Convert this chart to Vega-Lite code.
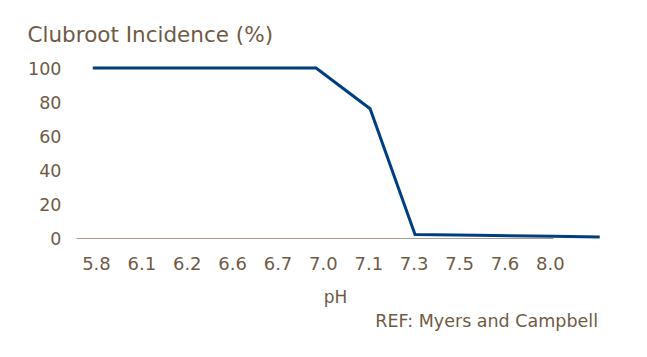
{
  "$schema": "https://vega.github.io/schema/vega-lite/v6.json",
  "width": 477,
  "height": 170,
  "autosize": {"type": "none"},
  "padding": {"left": 76, "top": 68, "right": 94, "bottom": 119},
  "background": "white",
  "config": {
    "view": {"stroke": null},
    "font": "DejaVu Sans",
    "axis": {"labelFont": "DejaVu Sans", "titleFont": "DejaVu Sans"}
  },
  "title": {
    "text": "REF: Myers and Campbell",
    "orient": "bottom",
    "anchor": "end",
    "frame": "group",
    "dx": 45,
    "offset": 8,
    "fontSize": 17.5,
    "fontWeight": "normal",
    "color": "#6f5b45",
    "font": "DejaVu Sans"
  },
  "data": {
    "values": [
      {"pos": -0.07, "incidence": 100},
      {"pos": 4.85, "incidence": 100},
      {"pos": 6.04, "incidence": 76},
      {"pos": 7.03, "incidence": 2},
      {"pos": 8.39, "incidence": 1.6},
      {"pos": 10.07, "incidence": 1},
      {"pos": 11.1, "incidence": 0.6}
    ]
  },
  "mark": {"type": "line", "color": "#003f7f", "strokeWidth": 3, "clip": false},
  "encoding": {
    "x": {
      "field": "pos",
      "type": "quantitative",
      "scale": {"domain": [-0.44, 10.07], "nice": false, "zero": false},
      "axis": {
        "values": [0, 1, 2, 3, 4, 5, 6, 7, 8, 9, 10],
        "labelExpr": "['5.8','6.1','6.2','6.6','6.7','7.0','7.1','7.3','7.5','7.6','8.0'][datum.value]",
        "ticks": false,
        "grid": false,
        "domainColor": "#a89a8c",
        "domainWidth": 1,
        "labelColor": "#6f5b45",
        "labelFontSize": 18,
        "labelPadding": 17,
        "labelFlush": false,
        "title": "pH",
        "titleColor": "#6f5b45",
        "titleFontSize": 17,
        "titleFontWeight": "normal",
        "titleX": 259,
        "titleY": 64,
        "titleAlign": "center",
        "titleBaseline": "alphabetic"
      }
    },
    "y": {
      "field": "incidence",
      "type": "quantitative",
      "scale": {"domain": [0, 100], "nice": false},
      "axis": {
        "values": [0, 20, 40, 60, 80, 100],
        "ticks": false,
        "grid": false,
        "domain": false,
        "labelColor": "#6f5b45",
        "labelFontSize": 17.5,
        "labelPadding": 15,
        "labelAlign": "right",
        "labelOffset": 1,
        "title": "Clubroot Incidence (%)",
        "titleAngle": 0,
        "titleAlign": "left",
        "titleBaseline": "alphabetic",
        "titleX": -49,
        "titleY": -27,
        "titleColor": "#6f5b45",
        "titleFontSize": 21.5,
        "titleFontWeight": "normal"
      }
    }
  }
}
